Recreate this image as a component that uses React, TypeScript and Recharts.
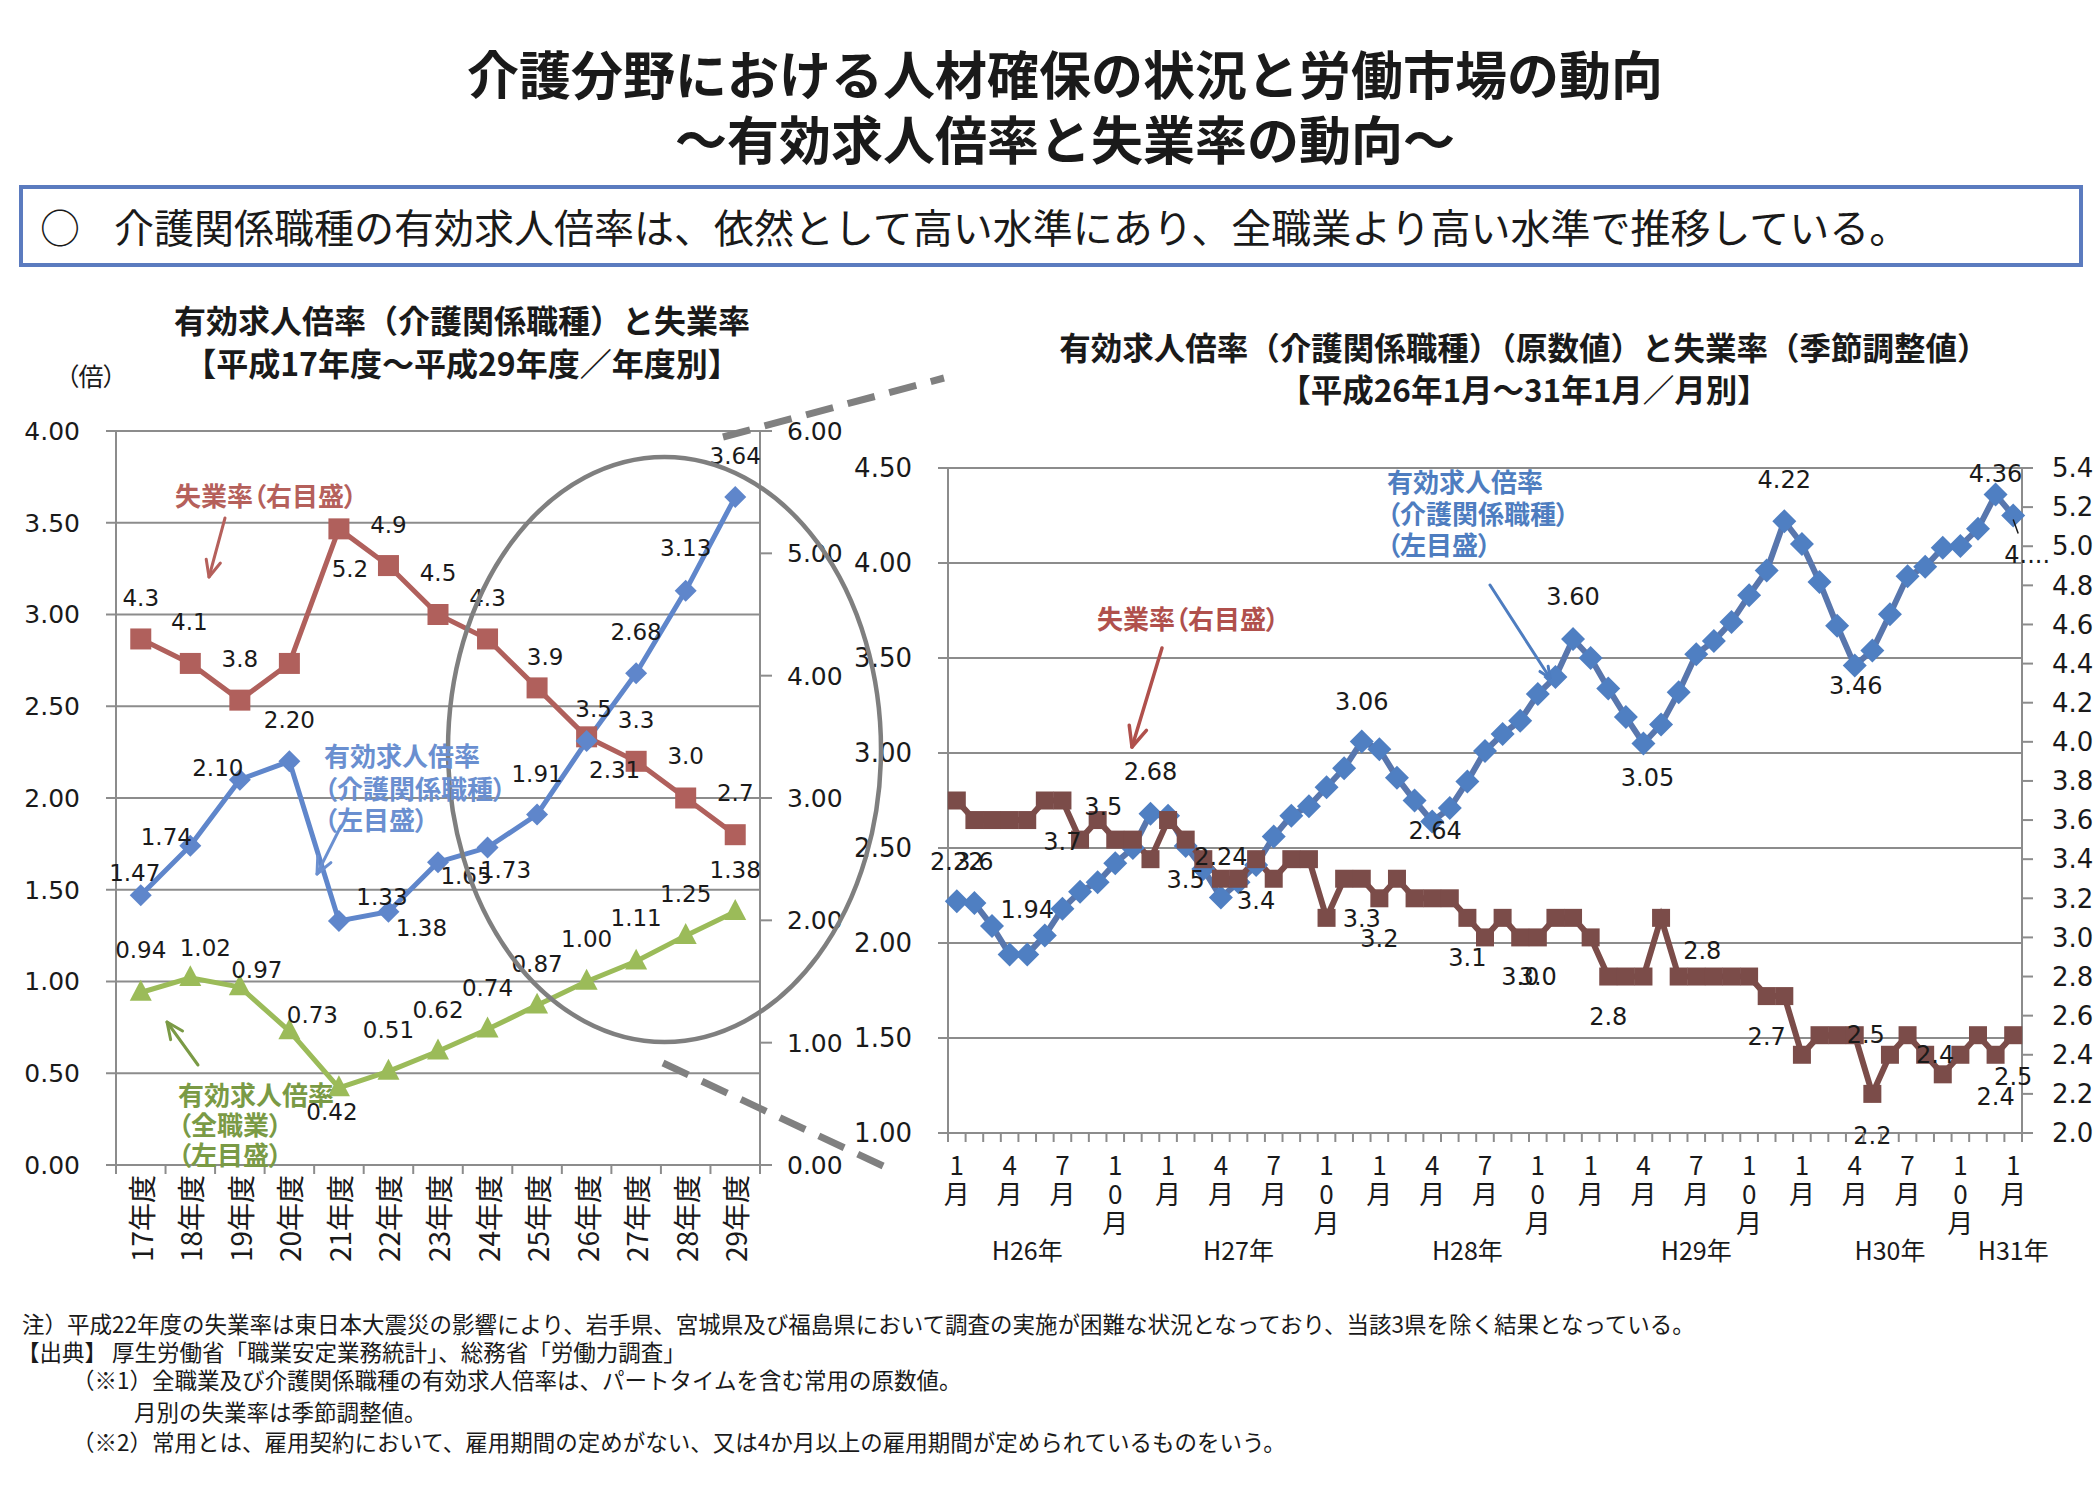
import React from 'react';
import { LineChart, Line, XAxis, YAxis, CartesianGrid } from 'recharts';

const JP = '"Noto Sans CJK JP", "Noto Sans CJK SC", sans-serif';
const NUM = '"DejaVu Sans", "Noto Sans CJK JP", sans-serif';
const INK = '#1a1a1a';
const GRID = '#8c8c8c';

// ---- 年度別（左のグラフ）
const fiscalYears = ['17年度', '18年度', '19年度', '20年度', '21年度', '22年度', '23年度', '24年度', '25年度', '26年度', '27年度', '28年度', '29年度'];
const careYearly = [1.47, 1.74, 2.1, 2.2, 1.33, 1.38, 1.65, 1.73, 1.91, 2.31, 2.68, 3.13, 3.64];
const allJobsYearly = [0.94, 1.02, 0.97, 0.73, 0.42, 0.51, 0.62, 0.74, 0.87, 1.0, 1.11, 1.25, 1.38];
const unempYearly = [4.3, 4.1, 3.8, 4.1, 5.2, 4.9, 4.5, 4.3, 3.9, 3.5, 3.3, 3.0, 2.7];
const yearlyTicksL = [0, 0.5, 1, 1.5, 2, 2.5, 3, 3.5, 4];
const yearlyTicksR = [0, 1, 2, 3, 4, 5, 6];

// ---- 月別（右のグラフ）H26年1月～H31年1月
const eraYears = ['H26', 'H27', 'H28', 'H29', 'H30'];
const monthNames = ['1', '2', '3', '4', '5', '6', '7', '8', '9', '10', '11', '12'];
const careMonthly = [
  2.22, 2.21, 2.09, 1.94, 1.94, 2.04, 2.18, 2.27, 2.32, 2.42, 2.5, 2.68,
  2.67, 2.51, 2.39, 2.24, 2.32, 2.41, 2.56, 2.67, 2.72, 2.82, 2.92, 3.06,
  3.02, 2.87, 2.75, 2.64, 2.71, 2.85, 3.01, 3.1, 3.17, 3.31, 3.4, 3.6,
  3.5, 3.34, 3.19, 3.05, 3.15, 3.32, 3.52, 3.59, 3.69, 3.83, 3.96, 4.22,
  4.1, 3.9, 3.67, 3.46, 3.54, 3.73, 3.93, 3.98, 4.08, 4.09, 4.18, 4.36,
  4.25,
];
const unempMonthly = [
  3.7, 3.6, 3.6, 3.6, 3.6, 3.7, 3.7, 3.5, 3.6, 3.5, 3.5, 3.4,
  3.6, 3.5, 3.4, 3.3, 3.3, 3.4, 3.3, 3.4, 3.4, 3.1, 3.3, 3.3,
  3.2, 3.3, 3.2, 3.2, 3.2, 3.1, 3.0, 3.1, 3.0, 3.0, 3.1, 3.1,
  3.0, 2.8, 2.8, 2.8, 3.1, 2.8, 2.8, 2.8, 2.8, 2.8, 2.7, 2.7,
  2.4, 2.5, 2.5, 2.5, 2.2, 2.4, 2.5, 2.4, 2.3, 2.4, 2.5, 2.4,
  2.5,
];
const monthlyTicksL = [1, 1.5, 2, 2.5, 3, 3.5, 4, 4.5];
const monthlyTicksR = [2.0, 2.2, 2.4, 2.6, 2.8, 3.0, 3.2, 3.4, 3.6, 3.8, 4.0, 4.2, 4.4, 4.6, 4.8, 5.0, 5.2, 5.4];
const eraLabels = ['H26年', 'H27年', 'H28年', 'H29年', 'H30年', 'H31年'];

const monthKeys = eraYears.flatMap((y) => monthNames.map((m) => `${y}-${m}`)).concat(['H31-1']);

const yearlyData = fiscalYears.map((cat, i) => ({
  cat,
  care: careYearly[i],
  all: allJobsYearly[i],
  unemp: unempYearly[i],
}));
const monthlyData = monthKeys.map((key, i) => ({ key, care: careMonthly[i], unemp: unempMonthly[i] }));

// ---- layout
const L_LEFT = 116;
const L_RIGHT = 760;
const L_TOP = 431;
const L_BOTTOM = 1165;
const L_BAND = (L_RIGHT - L_LEFT) / fiscalYears.length;

const R_LEFT = 948;
const R_RIGHT = 2022;
const R_TOP = 468;
const R_BOTTOM = 1133;
const R_BAND = (R_RIGHT - R_LEFT) / monthKeys.length;

// data label offsets [dx, dy] from the point, by index
const careYearlyLbl: Record<number, number[]> = {
  0: [-6, -22], 1: [-24, -9], 2: [-22, -12], 3: [0, -41], 4: [43, -24], 5: [33, 16], 6: [28, 14],
  7: [18, 22], 8: [0, -41], 9: [28, 29], 10: [0, -41], 11: [0, -43], 12: [0, -41],
};
const allJobsYearlyLbl: Record<number, number[]> = {
  0: [0, -43], 1: [15, -30], 2: [17, -17], 3: [23, -16], 4: [-7, 24], 5: [0, -41], 6: [0, -41],
  7: [0, -41], 8: [0, -41], 9: [0, -43], 10: [0, -43], 11: [0, -42], 12: [0, -42],
};
const unempYearlyLbl: Record<number, number[]> = {
  0: [0, -41], 1: [-1, -41], 2: [0, -41], 4: [11, 40], 5: [0, -41], 6: [0, -42], 7: [0, -41],
  8: [8, -31], 9: [7, -28], 10: [0, -41], 11: [0, -42], 12: [0, -42],
};
const careMonthlyLbl: Record<number, number[]> = {
  0: [0, -39], 4: [0, -44], 11: [0, -42], 15: [0, -40], 23: [0, -40], 27: [3, 10], 35: [0, -42],
  39: [4, 34], 47: [0, -41], 51: [1, 20], 59: [0, -21], 60: [14, 39],
};
const unempMonthlyLbl: Record<number, number[]> = {
  1: [0, 42], 6: [0, 41], 9: [-12, -33], 13: [0, 40], 17: [0, 42], 23: [0, 40], 24: [0, 41],
  29: [0, 40], 32: [0, 40], 33: [0, 40], 37: [0, 40], 42: [6, -26], 46: [0, 41], 51: [11, 0],
  52: [0, 42], 55: [10, 0], 59: [0, 42], 60: [0, 42],
};
const careMonthlyCut: Record<number, string> = { 60: '4....' };

const diamond = (color: string, r: number) => (p: any) => (
  <polygon
    key={`d-${p.index}`}
    points={`${p.cx},${p.cy - r} ${p.cx + r},${p.cy} ${p.cx},${p.cy + r} ${p.cx - r},${p.cy}`}
    fill={color}
  />
);
const square = (color: string, r: number) => (p: any) => (
  <rect key={`s-${p.index}`} x={p.cx - r} y={p.cy - r} width={2 * r} height={2 * r} fill={color} />
);
const triangle = (color: string, r: number) => (p: any) => (
  <polygon
    key={`t-${p.index}`}
    points={`${p.cx},${p.cy - r * 1.15} ${p.cx + r},${p.cy + r * 0.75} ${p.cx - r},${p.cy + r * 0.75}`}
    fill={color}
  />
);

function labelDot(
  values: number[],
  offsets: Record<number, number[]>,
  digits: number,
  size: number,
  cut: Record<number, string> = {},
) {
  return (p: any) => {
    const off = offsets[p.index];
    if (!off || p.cx == null || p.cy == null) return <g key={`l-${p.index}`} />;
    const text = cut[p.index] ?? values[p.index].toFixed(digits);
    return (
      <g key={`l-${p.index}`}>
        {cut[p.index] && (
          <line x1={p.cx} y1={p.cy + 4} x2={p.cx + 5} y2={p.cy + 18} stroke={INK} strokeWidth={1.5} />
        )}
        <text
          x={p.cx + off[0]}
          y={p.cy + off[1]}
          textAnchor="middle"
          dominantBaseline="central"
          fontSize={size}
          fontFamily={NUM}
          fill={INK}
        >
          {text}
        </text>
      </g>
    );
  };
}

const YearTick = (p: any) => {
  const { x, index, payload } = p;
  const h = L_BAND / 2;
  return (
    <g>
      <line x1={x - h} x2={x - h} y1={L_BOTTOM} y2={L_BOTTOM + 9} stroke={GRID} strokeWidth={2} />
      {index === fiscalYears.length - 1 && (
        <line x1={x + h} x2={x + h} y1={L_BOTTOM} y2={L_BOTTOM + 9} stroke={GRID} strokeWidth={2} />
      )}
      <text
        transform={`translate(${x},${L_BOTTOM + 10}) rotate(-90)`}
        textAnchor="end"
        dominantBaseline="central"
        fontSize={28}
        fontFamily={JP}
        fill={INK}
      >
        {payload.value}
      </text>
    </g>
  );
};

const eraAt: Record<number, number> = { 4: 0, 16: 1, 29: 2, 42: 3, 53: 4, 60: 5 };

const MonthTick = (p: any) => {
  const { x, index, payload } = p;
  const h = R_BAND / 2;
  const month = String(payload.value).split('-')[1];
  const chars = index % 3 === 0 ? [...month, '月'] : [];
  return (
    <g>
      <line x1={x - h} x2={x - h} y1={R_BOTTOM} y2={R_BOTTOM + 9} stroke={GRID} strokeWidth={2} />
      {index === monthKeys.length - 1 && (
        <line x1={x + h} x2={x + h} y1={R_BOTTOM} y2={R_BOTTOM + 9} stroke={GRID} strokeWidth={2} />
      )}
      {chars.map((ch, k) => (
        <text
          key={k}
          x={x}
          y={1163 + 29 * k}
          textAnchor="middle"
          dominantBaseline="central"
          fontSize={26}
          fontFamily={JP}
          fill={INK}
        >
          {ch}
        </text>
      ))}
      {eraAt[index] !== undefined && (
        <text x={x} y={1249} textAnchor="middle" dominantBaseline="central" fontSize={25} fontFamily={JP} fill={INK}>
          {eraLabels[eraAt[index]]}
        </text>
      )}
    </g>
  );
};

function Arrow({ x1, y1, x2, y2, color, w = 3.5, head = 20 }: any) {
  const a = Math.atan2(y2 - y1, x2 - x1);
  const s = 0.42;
  const p1 = [x2 - head * Math.cos(a - s), y2 - head * Math.sin(a - s)];
  const p2 = [x2 - head * Math.cos(a + s), y2 - head * Math.sin(a + s)];
  return (
    <g stroke={color} strokeWidth={w} fill="none" strokeLinecap="round" strokeLinejoin="round">
      <line x1={x1} y1={y1} x2={x2} y2={y2} />
      <polyline points={`${p1[0]},${p1[1]} ${x2},${y2} ${p2[0]},${p2[1]}`} />
    </g>
  );
}

const note = { fontFamily: JP, fontSize: 26, fontWeight: 700, fontFeatureSettings: '"palt"' } as any;

function Overlay() {
  const t = (x: number, y: number, s: string, extra: any = {}) => (
    <text x={x} y={y} dominantBaseline="central" fontFamily={JP} fill={INK} {...extra}>
      {s}
    </text>
  );
  return (
    <svg width={2100} height={1500} style={{ position: 'absolute', left: 0, top: 0, pointerEvents: 'none' }}>
      {t(1065, 72, '介護分野における人材確保の状況と労働市場の動向', { textAnchor: 'middle', fontSize: 52, fontWeight: 700 })}
      {t(1065, 137, '～有効求人倍率と失業率の動向～', { textAnchor: 'middle', fontSize: 52, fontWeight: 700 })}
      {t(40, 226, '○', { fontSize: 40 })}
      {t(114, 226, '介護関係職種の有効求人倍率は、依然として高い水準にあり、全職業より高い水準で推移している。', { fontSize: 40 })}

      {t(462, 319, '有効求人倍率（介護関係職種）と失業率', { textAnchor: 'middle', fontSize: 32, fontWeight: 700 })}
      {t(462, 362, '【平成17年度～平成29年度／年度別】', { textAnchor: 'middle', fontSize: 32, fontWeight: 700 })}
      {t(1524, 346, '有効求人倍率（介護関係職種）（原数値）と失業率（季節調整値）', { textAnchor: 'middle', fontSize: 31.5, fontWeight: 700 })}
      {t(1524, 388, '【平成26年1月～31年1月／月別】', { textAnchor: 'middle', fontSize: 31.5, fontWeight: 700 })}
      {t(91, 375, '（倍）', { textAnchor: 'middle', fontSize: 25, style: { fontFeatureSettings: '"palt"' } })}

      {/* 拡大部分の囲み */}
      <ellipse cx={664.5} cy={749.5} rx={216.5} ry={292.5} fill="none" stroke="#7f7f7f" strokeWidth={4.5} />
      <line x1={723} y1={437} x2={944} y2={378} stroke="#808080" strokeWidth={7} strokeDasharray="28 15" />
      <line x1={663} y1={1063} x2={896} y2={1172} stroke="#808080" strokeWidth={7} strokeDasharray="28 15" />

      {/* 左グラフの注記 */}
      <text x={175} y={494} dominantBaseline="central" fill="#b5605b" style={note}>失業率（右目盛）</text>
      <Arrow x1={225} y1={518} x2={209} y2={577} color="#b5605b" w={3} head={18} />
      <text dominantBaseline="central" fill="#6a8fd0" style={note}>
        <tspan x={324} y={754}>有効求人倍率</tspan>
        <tspan x={324} y={787}>（介護関係職種）</tspan>
        <tspan x={324} y={818}>（左目盛）</tspan>
      </text>
      <Arrow x1={341} y1={826} x2={317} y2={874} color="#6a8fd0" w={3} head={18} />
      <text dominantBaseline="central" fill="#7a9a45" style={note}>
        <tspan x={178} y={1093}>有効求人倍率</tspan>
        <tspan x={178} y={1123}>（全職業）</tspan>
        <tspan x={178} y={1153}>（左目盛）</tspan>
      </text>
      <Arrow x1={198} y1={1065} x2={167} y2={1022} color="#7a9a45" w={3} head={18} />

      {/* 右グラフの注記 */}
      <text x={1097} y={617} dominantBaseline="central" fill="#b0504c" style={note}>失業率（右目盛）</text>
      <Arrow x1={1162} y1={648} x2={1132} y2={747} color="#b0504c" w={3.5} head={22} />
      <text dominantBaseline="central" fill="#4e7dc0" style={note}>
        <tspan x={1387} y={480}>有効求人倍率</tspan>
        <tspan x={1387} y={512}>（介護関係職種）</tspan>
        <tspan x={1387} y={543}>（左目盛）</tspan>
      </text>
      <Arrow x1={1490} y1={585} x2={1550} y2={678} color="#4e7dc0" w={3} head={12} />

      {/* 注記 */}
      {t(22, 1323, '注）平成22年度の失業率は東日本大震災の影響により、岩手県、宮城県及び福島県において調査の実施が困難な状況となっており、当該3県を除く結果となっている。', { fontSize: 22.5 })}
      {t(17, 1351, '【出典】 厚生労働省「職業安定業務統計」、総務省「労働力調査」', { fontSize: 22.5 })}
      {t(72, 1379, '（※1）全職業及び介護関係職種の有効求人倍率は、パートタイムを含む常用の原数値。', { fontSize: 22.5 })}
      {t(134, 1411, '月別の失業率は季節調整値。', { fontSize: 22.5 })}
      {t(72, 1441, '（※2）常用とは、雇用契約において、雇用期間の定めがない、又は4か月以上の雇用期間が定められているものをいう。', { fontSize: 22.5 })}
    </svg>
  );
}

function YearlyChart() {
  const tickL = { fontSize: 25, fontFamily: NUM, fill: INK };
  return (
    <div style={{ position: 'absolute', left: 0, top: 0 }}>
      <LineChart
        width={2100}
        height={1500}
        data={yearlyData}
        margin={{ top: L_TOP, left: 0, right: 2100 - L_RIGHT - 100, bottom: 1500 - L_BOTTOM - 120 }}
      >
        <CartesianGrid vertical={false} stroke={GRID} strokeWidth={2} yAxisId="l" />
        <XAxis
          dataKey="cat"
          interval={0}
          height={120}
          padding={{ left: L_BAND / 2, right: L_BAND / 2 }}
          axisLine={{ stroke: GRID, strokeWidth: 2 }}
          tickLine={false}
          tick={(p: any) => <YearTick {...p} />}
        />
        <YAxis
          yAxisId="l"
          width={L_LEFT}
          domain={[0, 4]}
          ticks={yearlyTicksL}
          interval={0}
          tickSize={10}
          tickMargin={26}
          tickFormatter={(v: number) => v.toFixed(2)}
          axisLine={{ stroke: GRID, strokeWidth: 2 }}
          tickLine={{ stroke: GRID, strokeWidth: 2 }}
          tick={tickL}
        />
        <YAxis
          yAxisId="r"
          orientation="right"
          width={100}
          domain={[0, 6]}
          ticks={yearlyTicksR}
          interval={0}
          tickSize={12}
          tickMargin={15}
          tickFormatter={(v: number) => v.toFixed(2)}
          axisLine={{ stroke: GRID, strokeWidth: 2 }}
          tickLine={{ stroke: GRID, strokeWidth: 2 }}
          tick={tickL}
        />
        <Line yAxisId="r" dataKey="unemp" stroke="#b0605c" strokeWidth={5} dot={square('#b0605c', 10.5)} activeDot={false} isAnimationActive={false} />
        <Line yAxisId="l" dataKey="all" stroke="#9bbb59" strokeWidth={5} dot={triangle('#9bbb59', 11)} activeDot={false} isAnimationActive={false} />
        <Line yAxisId="l" dataKey="care" stroke="#5f86cb" strokeWidth={5} dot={diamond('#5f86cb', 11)} activeDot={false} isAnimationActive={false} />
        <Line yAxisId="r" dataKey="unemp" stroke="none" dot={labelDot(unempYearly, unempYearlyLbl, 1, 23)} activeDot={false} isAnimationActive={false} />
        <Line yAxisId="l" dataKey="all" stroke="none" dot={labelDot(allJobsYearly, allJobsYearlyLbl, 2, 23)} activeDot={false} isAnimationActive={false} />
        <Line yAxisId="l" dataKey="care" stroke="none" dot={labelDot(careYearly, careYearlyLbl, 2, 23)} activeDot={false} isAnimationActive={false} />
      </LineChart>
    </div>
  );
}

function MonthlyChart() {
  const tickS = { fontSize: 26, fontFamily: NUM, fill: INK };
  return (
    <div style={{ position: 'absolute', left: 0, top: 0 }}>
      <LineChart
        width={2100}
        height={1500}
        data={monthlyData}
        margin={{ top: R_TOP, left: R_LEFT - 128, right: 2100 - R_RIGHT - 78, bottom: 1500 - R_BOTTOM - 170 }}
      >
        <CartesianGrid vertical={false} stroke={GRID} strokeWidth={2} yAxisId="l" />
        <XAxis
          dataKey="key"
          interval={0}
          height={170}
          padding={{ left: R_BAND / 2, right: R_BAND / 2 }}
          axisLine={{ stroke: GRID, strokeWidth: 2 }}
          tickLine={false}
          tick={(p: any) => <MonthTick {...p} />}
        />
        <YAxis
          yAxisId="l"
          width={128}
          domain={[1, 4.5]}
          ticks={monthlyTicksL}
          interval={0}
          tickSize={10}
          tickMargin={26}
          tickFormatter={(v: number) => v.toFixed(2)}
          axisLine={{ stroke: GRID, strokeWidth: 2 }}
          tickLine={{ stroke: GRID, strokeWidth: 2 }}
          tick={tickS}
        />
        <YAxis
          yAxisId="r"
          orientation="right"
          width={78}
          domain={[2, 5.4]}
          ticks={monthlyTicksR}
          interval={0}
          tickSize={11}
          tickMargin={19}
          tickFormatter={(v: number) => v.toFixed(1)}
          axisLine={{ stroke: GRID, strokeWidth: 2 }}
          tickLine={{ stroke: GRID, strokeWidth: 2 }}
          tick={tickS}
        />
        <Line yAxisId="l" dataKey="care" stroke="#5876ad" strokeWidth={6} dot={diamond('#4f7fc2', 12)} activeDot={false} isAnimationActive={false} />
        <Line yAxisId="r" dataKey="unemp" stroke="#7b4c49" strokeWidth={6} dot={square('#7b4c49', 9)} activeDot={false} isAnimationActive={false} />
        <Line yAxisId="l" dataKey="care" stroke="none" dot={labelDot(careMonthly, careMonthlyLbl, 2, 24, careMonthlyCut)} activeDot={false} isAnimationActive={false} />
        <Line yAxisId="r" dataKey="unemp" stroke="none" dot={labelDot(unempMonthly, unempMonthlyLbl, 1, 24)} activeDot={false} isAnimationActive={false} />
      </LineChart>
    </div>
  );
}

export default function App() {
  return (
    <div style={{ position: 'absolute', left: 0, top: 0, width: 2100, height: 1500, background: '#fff', overflow: 'hidden' }}>
      <div
        style={{
          position: 'absolute',
          left: 19,
          top: 185,
          width: 2064,
          height: 82,
          boxSizing: 'border-box',
          border: '4px solid #5b7bbf',
        }}
      />
      <YearlyChart />
      <MonthlyChart />
      <Overlay />
    </div>
  );
}
